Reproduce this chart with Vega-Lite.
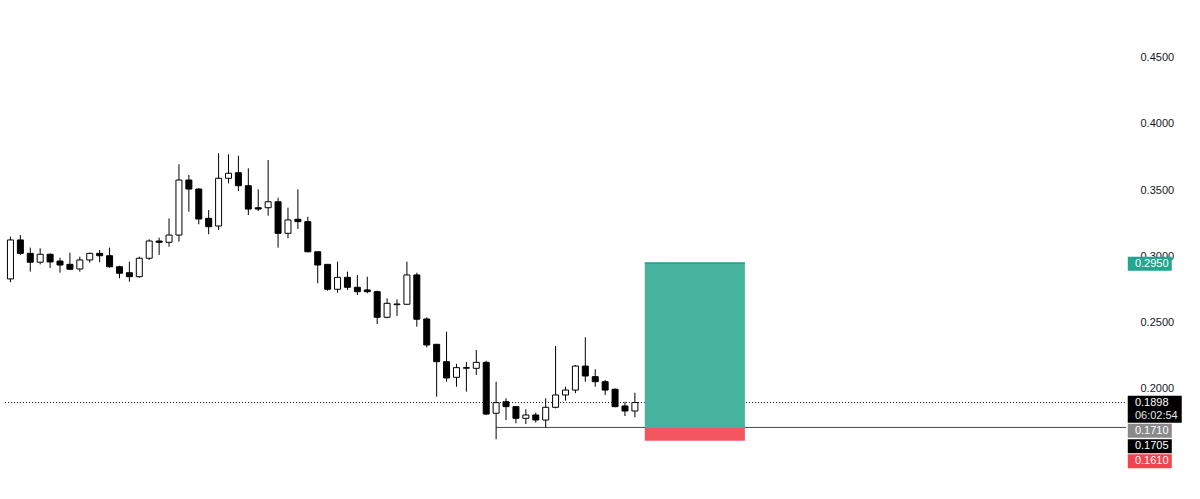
{
"$schema": "https://vega.github.io/schema/vega-lite/v6.json",
"width": 1131, "height": 499,
"autosize": {"type": "none"},
"padding": {"left": 0, "top": 0, "right": 69, "bottom": 0},
"background": "#ffffff",
"config": {"view": {"stroke": null}, "font": "Liberation Sans",
"axis": {"ticks": false, "domain": false, "grid": false, "labelPadding": 9, "labelFontSize": 11, "labelColor": "#131722", "labelFont": "Liberation Sans"}},
"datasets": {
"candles": [
{"i":0,"open":0.2830,"high":0.3149,"low":0.2805,"close":0.3124},
{"i":1,"open":0.3124,"high":0.3161,"low":0.3011,"close":0.3023},
{"i":2,"open":0.3023,"high":0.3066,"low":0.2885,"close":0.2956},
{"i":3,"open":0.2956,"high":0.3061,"low":0.2940,"close":0.3016},
{"i":4,"open":0.3016,"high":0.3023,"low":0.2913,"close":0.2958},
{"i":5,"open":0.2965,"high":0.2990,"low":0.2877,"close":0.2935},
{"i":6,"open":0.2940,"high":0.3028,"low":0.2897,"close":0.2903},
{"i":7,"open":0.2905,"high":0.2998,"low":0.2885,"close":0.2973},
{"i":8,"open":0.2973,"high":0.3028,"low":0.2953,"close":0.3023},
{"i":9,"open":0.3023,"high":0.3048,"low":0.2956,"close":0.3005},
{"i":10,"open":0.3005,"high":0.3066,"low":0.2915,"close":0.2922},
{"i":11,"open":0.2922,"high":0.2930,"low":0.2835,"close":0.2873},
{"i":12,"open":0.2877,"high":0.2960,"low":0.2809,"close":0.2847},
{"i":13,"open":0.2847,"high":0.2998,"low":0.2839,"close":0.2986},
{"i":14,"open":0.2986,"high":0.3129,"low":0.2973,"close":0.3116},
{"i":15,"open":0.3116,"high":0.3141,"low":0.3011,"close":0.3106},
{"i":16,"open":0.3106,"high":0.3287,"low":0.3073,"close":0.3161},
{"i":17,"open":0.3161,"high":0.3695,"low":0.3111,"close":0.3576},
{"i":18,"open":0.3576,"high":0.3614,"low":0.3337,"close":0.3508},
{"i":19,"open":0.3508,"high":0.3514,"low":0.3242,"close":0.3282},
{"i":20,"open":0.3287,"high":0.3350,"low":0.3167,"close":0.3224},
{"i":21,"open":0.3229,"high":0.3778,"low":0.3199,"close":0.3589},
{"i":22,"open":0.3589,"high":0.3770,"low":0.3551,"close":0.3627},
{"i":23,"open":0.3631,"high":0.3759,"low":0.3493,"close":0.3533},
{"i":24,"open":0.3533,"high":0.3664,"low":0.3312,"close":0.3357},
{"i":25,"open":0.3367,"high":0.3506,"low":0.3342,"close":0.3357},
{"i":26,"open":0.3367,"high":0.3727,"low":0.3307,"close":0.3412},
{"i":27,"open":0.3412,"high":0.3443,"low":0.3066,"close":0.3174},
{"i":28,"open":0.3174,"high":0.3367,"low":0.3137,"close":0.3275},
{"i":29,"open":0.3280,"high":0.3506,"low":0.3207,"close":0.3262},
{"i":30,"open":0.3262,"high":0.3299,"low":0.3031,"close":0.3035},
{"i":31,"open":0.3035,"high":0.3035,"low":0.2797,"close":0.2935},
{"i":32,"open":0.2940,"high":0.2940,"low":0.2741,"close":0.2752},
{"i":33,"open":0.2752,"high":0.2960,"low":0.2726,"close":0.2842},
{"i":34,"open":0.2842,"high":0.2885,"low":0.2747,"close":0.2767},
{"i":35,"open":0.2767,"high":0.2860,"low":0.2709,"close":0.2734},
{"i":36,"open":0.2747,"high":0.2847,"low":0.2722,"close":0.2734},
{"i":37,"open":0.2734,"high":0.2741,"low":0.2490,"close":0.2541},
{"i":38,"open":0.2541,"high":0.2684,"low":0.2533,"close":0.2646},
{"i":39,"open":0.2636,"high":0.2676,"low":0.2551,"close":0.2641},
{"i":40,"open":0.2639,"high":0.2960,"low":0.2633,"close":0.2860},
{"i":41,"open":0.2860,"high":0.2877,"low":0.2470,"close":0.2526},
{"i":42,"open":0.2528,"high":0.2541,"low":0.2314,"close":0.2332},
{"i":43,"open":0.2337,"high":0.2339,"low":0.1942,"close":0.2206},
{"i":44,"open":0.2206,"high":0.2432,"low":0.2055,"close":0.2083},
{"i":45,"open":0.2088,"high":0.2189,"low":0.2017,"close":0.2161},
{"i":46,"open":0.2161,"high":0.2204,"low":0.1980,"close":0.2157},
{"i":47,"open":0.2156,"high":0.2294,"low":0.2106,"close":0.2201},
{"i":48,"open":0.2201,"high":0.2213,"low":0.1804,"close":0.1811},
{"i":49,"open":0.1817,"high":0.2055,"low":0.1621,"close":0.1897},
{"i":50,"open":0.1904,"high":0.1930,"low":0.1766,"close":0.1867},
{"i":51,"open":0.1867,"high":0.1872,"low":0.1741,"close":0.1779},
{"i":52,"open":0.1779,"high":0.1847,"low":0.1736,"close":0.1804},
{"i":53,"open":0.1804,"high":0.1821,"low":0.1746,"close":0.1766},
{"i":54,"open":0.1766,"high":0.1930,"low":0.1710,"close":0.1862},
{"i":55,"open":0.1862,"high":0.2324,"low":0.1854,"close":0.1955},
{"i":56,"open":0.1955,"high":0.2017,"low":0.1912,"close":0.1992},
{"i":57,"open":0.1992,"high":0.2181,"low":0.1968,"close":0.2173},
{"i":58,"open":0.2173,"high":0.2390,"low":0.2055,"close":0.2098},
{"i":59,"open":0.2093,"high":0.2149,"low":0.2017,"close":0.2055},
{"i":60,"open":0.2055,"high":0.2068,"low":0.1955,"close":0.1992},
{"i":61,"open":0.1998,"high":0.2005,"low":0.1862,"close":0.1867},
{"i":62,"open":0.1872,"high":0.1904,"low":0.1796,"close":0.1834},
{"i":63,"open":0.1834,"high":0.1972,"low":0.1787,"close":0.1898}
],
"position": [{"start": 64, "end": 74.1, "entry": 0.1705, "target": 0.2950, "stop": 0.1610, "lineStart": 49, "level": 0.1710, "last": 0.1898}],
"labels": [
{"key": "target", "price": 0.2950, "text": "0.2950"},
{"key": "last", "price": 0.1898, "text": "0.1898"},
{"key": "countdown", "price": 0.1898, "text": "06:02:54"},
{"key": "level", "price": 0.1710, "text": "0.1710"},
{"key": "entry", "price": 0.1705, "text": "0.1705"},
{"key": "stop", "price": 0.1610, "text": "0.1610"}
]
},
"layer": [
{
"data": {"name": "position"},
"mark": {"type": "rule", "color": "#131722", "strokeWidth": 1, "strokeDash": [1, 2]},
"encoding": {
"x": {"datum": -0.55, "type": "quantitative", "scale": {"domain": [-0.55, 112.55], "nice": false, "zero": false}, "axis": null},
"x2": {"datum": 112.55},
"y": {"field": "last", "type": "quantitative", "scale": {"domain": [0.11704, 0.49336], "nice": false, "zero": false}, "axis": {"orient": "right", "values": [0.2, 0.25, 0.3, 0.35, 0.4, 0.45], "format": ".4f", "title": null}}
}
},
{
"data": {"name": "position"},
"mark": {"type": "rule", "color": "#4a4a4a", "strokeWidth": 1},
"encoding": {
"x": {"field": "lineStart", "type": "quantitative", "scale": {"domain": [-0.55, 112.55], "nice": false, "zero": false}, "axis": null},
"x2": {"datum": 112.55},
"y": {"field": "level", "type": "quantitative", "scale": {"domain": [0.11704, 0.49336], "nice": false, "zero": false}, "axis": {"orient": "right", "values": [0.2, 0.25, 0.3, 0.35, 0.4, 0.45], "format": ".4f", "title": null}}
}
},
{
"data": {"name": "candles"},
"mark": {"type": "rule", "color": "#000000", "strokeWidth": 1},
"encoding": {
"x": {"field": "i", "type": "quantitative", "scale": {"domain": [-0.55, 112.55], "nice": false, "zero": false}, "axis": null},
"y": {"field": "low", "type": "quantitative", "scale": {"domain": [0.11704, 0.49336], "nice": false, "zero": false}, "axis": {"orient": "right", "values": [0.2, 0.25, 0.3, 0.35, 0.4, 0.45], "format": ".4f", "title": null}},
"y2": {"field": "high"}
}
},
{
"data": {"name": "candles"},
"mark": {"type": "bar", "size": 6, "stroke": "#000000", "strokeWidth": 1},
"encoding": {
"x": {"field": "i", "type": "quantitative", "scale": {"domain": [-0.55, 112.55], "nice": false, "zero": false}, "axis": null},
"y": {"field": "open", "type": "quantitative", "scale": {"domain": [0.11704, 0.49336], "nice": false, "zero": false}, "axis": {"orient": "right", "values": [0.2, 0.25, 0.3, 0.35, 0.4, 0.45], "format": ".4f", "title": null}},
"y2": {"field": "close"},
"fill": {"condition": {"test": "datum.close >= datum.open", "value": "#ffffff"}, "value": "#000000"}
}
},
{
"data": {"name": "position"},
"mark": {"type": "rect", "color": "#45b39d", "opacity": 1},
"encoding": {
"x": {"field": "start", "type": "quantitative", "scale": {"domain": [-0.55, 112.55], "nice": false, "zero": false}, "axis": null},
"x2": {"field": "end"},
"y": {"field": "entry", "type": "quantitative", "scale": {"domain": [0.11704, 0.49336], "nice": false, "zero": false}, "axis": {"orient": "right", "values": [0.2, 0.25, 0.3, 0.35, 0.4, 0.45], "format": ".4f", "title": null}},
"y2": {"field": "target"}
}
},
{
"data": {"name": "position"},
"mark": {"type": "rect", "color": "#f4555f", "opacity": 1},
"encoding": {
"x": {"field": "start", "type": "quantitative", "scale": {"domain": [-0.55, 112.55], "nice": false, "zero": false}, "axis": null},
"x2": {"field": "end"},
"y": {"field": "stop", "type": "quantitative", "scale": {"domain": [0.11704, 0.49336], "nice": false, "zero": false}, "axis": {"orient": "right", "values": [0.2, 0.25, 0.3, 0.35, 0.4, 0.45], "format": ".4f", "title": null}},
"y2": {"field": "entry"}
}
},
{
"data": {"name": "position"},
"mark": {"type": "rule", "color": "#1f9c85", "strokeWidth": 1.5},
"encoding": {
"x": {"field": "start", "type": "quantitative", "scale": {"domain": [-0.55, 112.55], "nice": false, "zero": false}, "axis": null},
"x2": {"field": "end"},
"y": {"field": "target", "type": "quantitative", "scale": {"domain": [0.11704, 0.49336], "nice": false, "zero": false}, "axis": {"orient": "right", "values": [0.2, 0.25, 0.3, 0.35, 0.4, 0.45], "format": ".4f", "title": null}}
}
},
{
"data": {"name": "labels"},
"transform": [{"filter": "datum.key === 'target'"}],
"mark": {"type": "tick", "orient": "horizontal", "size": 44, "thickness": 14, "color": "#22a68f", "opacity": 1, "yOffset": 0.7},
"encoding": {
"x": {"datum": 114.95, "type": "quantitative", "scale": {"domain": [-0.55, 112.55], "nice": false, "zero": false}, "axis": null},
"y": {"field": "price", "type": "quantitative", "scale": {"domain": [0.11704, 0.49336], "nice": false, "zero": false}, "axis": {"orient": "right", "values": [0.2, 0.25, 0.3, 0.35, 0.4, 0.45], "format": ".4f", "title": null}}
}
},
{
"data": {"name": "labels"},
"transform": [{"filter": "datum.key === 'last'"}],
"mark": {"type": "tick", "orient": "horizontal", "size": 54, "thickness": 27, "color": "#000000", "opacity": 1, "yOffset": 6.8},
"encoding": {
"x": {"datum": 115.45, "type": "quantitative", "scale": {"domain": [-0.55, 112.55], "nice": false, "zero": false}, "axis": null},
"y": {"field": "price", "type": "quantitative", "scale": {"domain": [0.11704, 0.49336], "nice": false, "zero": false}, "axis": {"orient": "right", "values": [0.2, 0.25, 0.3, 0.35, 0.4, 0.45], "format": ".4f", "title": null}}
}
},
{
"data": {"name": "labels"},
"transform": [{"filter": "datum.key === 'level'"}],
"mark": {"type": "tick", "orient": "horizontal", "size": 44, "thickness": 14, "color": "#8a8a8a", "opacity": 1, "yOffset": 3.3},
"encoding": {
"x": {"datum": 114.95, "type": "quantitative", "scale": {"domain": [-0.55, 112.55], "nice": false, "zero": false}, "axis": null},
"y": {"field": "price", "type": "quantitative", "scale": {"domain": [0.11704, 0.49336], "nice": false, "zero": false}, "axis": {"orient": "right", "values": [0.2, 0.25, 0.3, 0.35, 0.4, 0.45], "format": ".4f", "title": null}}
}
},
{
"data": {"name": "labels"},
"transform": [{"filter": "datum.key === 'entry'"}],
"mark": {"type": "tick", "orient": "horizontal", "size": 44, "thickness": 14, "color": "#000000", "opacity": 1, "yOffset": 18.2},
"encoding": {
"x": {"datum": 114.95, "type": "quantitative", "scale": {"domain": [-0.55, 112.55], "nice": false, "zero": false}, "axis": null},
"y": {"field": "price", "type": "quantitative", "scale": {"domain": [0.11704, 0.49336], "nice": false, "zero": false}, "axis": {"orient": "right", "values": [0.2, 0.25, 0.3, 0.35, 0.4, 0.45], "format": ".4f", "title": null}}
}
},
{
"data": {"name": "labels"},
"transform": [{"filter": "datum.key === 'stop'"}],
"mark": {"type": "tick", "orient": "horizontal", "size": 44, "thickness": 14, "color": "#f2444f", "opacity": 1, "yOffset": 20.6},
"encoding": {
"x": {"datum": 114.95, "type": "quantitative", "scale": {"domain": [-0.55, 112.55], "nice": false, "zero": false}, "axis": null},
"y": {"field": "price", "type": "quantitative", "scale": {"domain": [0.11704, 0.49336], "nice": false, "zero": false}, "axis": {"orient": "right", "values": [0.2, 0.25, 0.3, 0.35, 0.4, 0.45], "format": ".4f", "title": null}}
}
},
{
"data": {"name": "labels"},
"transform": [{"filter": "datum.key === 'target'"}],
"mark": {"type": "text", "align": "left", "baseline": "middle", "fontSize": 11, "color": "#ffffff", "yOffset": 0.7},
"encoding": {
"x": {"datum": 113.45, "type": "quantitative", "scale": {"domain": [-0.55, 112.55], "nice": false, "zero": false}, "axis": null},
"y": {"field": "price", "type": "quantitative", "scale": {"domain": [0.11704, 0.49336], "nice": false, "zero": false}, "axis": {"orient": "right", "values": [0.2, 0.25, 0.3, 0.35, 0.4, 0.45], "format": ".4f", "title": null}},
"text": {"field": "text"}
}
},
{
"data": {"name": "labels"},
"transform": [{"filter": "datum.key === 'last'"}],
"mark": {"type": "text", "align": "left", "baseline": "middle", "fontSize": 11, "color": "#ffffff", "yOffset": 0.8},
"encoding": {
"x": {"datum": 113.45, "type": "quantitative", "scale": {"domain": [-0.55, 112.55], "nice": false, "zero": false}, "axis": null},
"y": {"field": "price", "type": "quantitative", "scale": {"domain": [0.11704, 0.49336], "nice": false, "zero": false}, "axis": {"orient": "right", "values": [0.2, 0.25, 0.3, 0.35, 0.4, 0.45], "format": ".4f", "title": null}},
"text": {"field": "text"}
}
},
{
"data": {"name": "labels"},
"transform": [{"filter": "datum.key === 'countdown'"}],
"mark": {"type": "text", "align": "left", "baseline": "middle", "fontSize": 11, "color": "#e6e6e6", "yOffset": 13.5},
"encoding": {
"x": {"datum": 113.45, "type": "quantitative", "scale": {"domain": [-0.55, 112.55], "nice": false, "zero": false}, "axis": null},
"y": {"field": "price", "type": "quantitative", "scale": {"domain": [0.11704, 0.49336], "nice": false, "zero": false}, "axis": {"orient": "right", "values": [0.2, 0.25, 0.3, 0.35, 0.4, 0.45], "format": ".4f", "title": null}},
"text": {"field": "text"}
}
},
{
"data": {"name": "labels"},
"transform": [{"filter": "datum.key === 'level'"}],
"mark": {"type": "text", "align": "left", "baseline": "middle", "fontSize": 11, "color": "#ffffff", "yOffset": 3.3},
"encoding": {
"x": {"datum": 113.45, "type": "quantitative", "scale": {"domain": [-0.55, 112.55], "nice": false, "zero": false}, "axis": null},
"y": {"field": "price", "type": "quantitative", "scale": {"domain": [0.11704, 0.49336], "nice": false, "zero": false}, "axis": {"orient": "right", "values": [0.2, 0.25, 0.3, 0.35, 0.4, 0.45], "format": ".4f", "title": null}},
"text": {"field": "text"}
}
},
{
"data": {"name": "labels"},
"transform": [{"filter": "datum.key === 'entry'"}],
"mark": {"type": "text", "align": "left", "baseline": "middle", "fontSize": 11, "color": "#ffffff", "yOffset": 18.2},
"encoding": {
"x": {"datum": 113.45, "type": "quantitative", "scale": {"domain": [-0.55, 112.55], "nice": false, "zero": false}, "axis": null},
"y": {"field": "price", "type": "quantitative", "scale": {"domain": [0.11704, 0.49336], "nice": false, "zero": false}, "axis": {"orient": "right", "values": [0.2, 0.25, 0.3, 0.35, 0.4, 0.45], "format": ".4f", "title": null}},
"text": {"field": "text"}
}
},
{
"data": {"name": "labels"},
"transform": [{"filter": "datum.key === 'stop'"}],
"mark": {"type": "text", "align": "left", "baseline": "middle", "fontSize": 11, "color": "#ffffff", "yOffset": 20.6},
"encoding": {
"x": {"datum": 113.45, "type": "quantitative", "scale": {"domain": [-0.55, 112.55], "nice": false, "zero": false}, "axis": null},
"y": {"field": "price", "type": "quantitative", "scale": {"domain": [0.11704, 0.49336], "nice": false, "zero": false}, "axis": {"orient": "right", "values": [0.2, 0.25, 0.3, 0.35, 0.4, 0.45], "format": ".4f", "title": null}},
"text": {"field": "text"}
}
}
]
}
